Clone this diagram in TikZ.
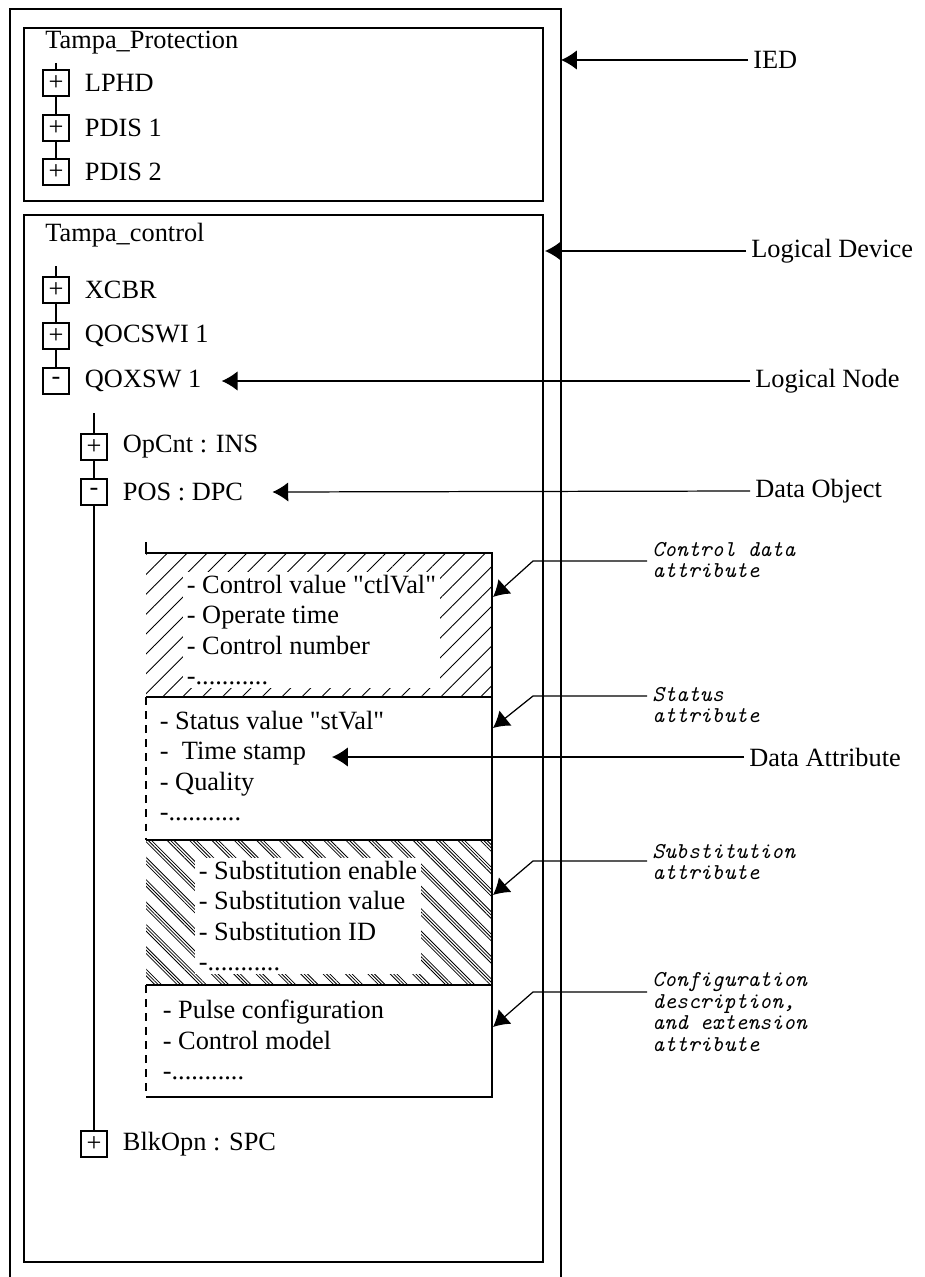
\documentclass[tikz,border=0pt]{standalone}
\usepackage{fontspec}
\setmainfont{Liberation Serif}[Ligatures=TeXOff]
\usetikzlibrary{positioning,arrows.meta,patterns.meta}

\tikzset{
  frame/.style={draw, line width=0.8pt},
  tbox/.style={draw, fill=white, line width=0.7pt, minimum size=0.52cm, inner sep=0pt, font=\fontsize{15}{15}\selectfont},
  item/.style={right=0.2cm of #1, inner sep=0.1cm},
  lbl/.style={anchor=west, inner sep=0.1cm},
  attr/.style={anchor=west, align=left, inner sep=2pt, font=\fontsize{15}{17.3}\selectfont},
  note/.style={anchor=west, align=left, inner sep=0.1cm, font=\ttfamily\itshape\fontsize{12.9}{12.5}\selectfont},
  arr/.style={-{Latex[length=9pt,width=11pt]}, line width=0.7pt},
}

\begin{document}
\begin{tikzpicture}[x=0.02cm, y=-0.02cm, every node/.style={font=\fontsize{15}{18}\selectfont}]
\useasboundingbox (0,0) rectangle (925,1277);

% frames
\draw[frame] (10,1277) -- (10,9) -- (561,9) -- (561,1277);
\draw[frame] (24,28) rectangle (543,201);
\draw[frame] (24,215) rectangle (543,1262);
\coordinate (outR) at (561,0);
\coordinate (ctlR) at (545,0);

% protection device
\node[lbl] (prot) at (40,43) {Tampa\_Protection};
\coordinate (ptop) at (56,63);
\node[tbox] (lphdb) at (56,83) {+};
\node[tbox] (pdis1b) at (56,128) {+};
\node[tbox] (pdis2b) at (56,172) {+};
\node[item=lphdb] (lphd) {LPHD};
\node[item=pdis1b] (pdis1) {PDIS 1};
\node[item=pdis2b] (pdis2) {PDIS 2};
\draw[line width=0.7pt] (ptop) -- (lphdb) (lphdb) -- (pdis1b) (pdis1b) -- (pdis2b);

% control device
\node[lbl] (ctl) at (40,235) {Tampa\_control};
\coordinate (ctop) at (56,266);
\node[tbox] (xcbrb) at (56,290) {+};
\node[tbox] (qocswib) at (56,336) {+};
\node[tbox] (qoxswb) at (56,381) {-};
\node[item=xcbrb] (xcbr) {XCBR};
\node[item=qocswib] (qocswi) {QOCSWI 1};
\node[item=qoxswb] (qoxsw) {QOXSW 1};
\draw[line width=0.7pt] (ctop) -- (xcbrb) (xcbrb) -- (qocswib) (qocswib) -- (qoxswb);

\coordinate (stop) at (94,413);
\node[tbox] (opcntb) at (94,447) {+};
\node[tbox] (posb) at (94,492) {-};
\node[tbox] (blkb) at (94,1144) {+};
\node[item=opcntb] (opcnt) {OpCnt : INS};
\node[item=posb] (pos) {POS : DPC};
\node[item=blkb] (blk) {BlkOpn : SPC};
\draw[line width=0.7pt] (stop) -- (opcntb) (opcntb) -- (posb) (posb) -- (blkb);

% attribute stack
\fill[pattern={Lines[angle=45,distance=8pt,line width=0.5pt]}] (146,553) rectangle (492,697);
\foreach \s in {0,1.9,3.8}
  \fill[pattern={Lines[angle=-45,distance=9pt,xshift=\s pt,line width=0.45pt]}] (146,840) rectangle (492,985);
\draw[frame] (146,542) -- (146,553) -- (492,553) -- (492,1097) -- (146,1097);
\draw[frame] (146,697) -- (492,697) (146,840) -- (492,840) (146,985) -- (492,985);
\draw[frame, dash pattern=on 4.5pt off 3.5pt] (146,697) -- (146,840) (146,985) -- (146,1097);

\node[attr, fill=white] (ctrlattr) at (183,630) {- Control value "ctlVal"\\- Operate time\\- Control number\\-...........};
\node[attr] (statattr) at (156,766) {- Status value "stVal"\\-\ \ Time stamp\\- Quality\\-...........};
\node[attr, fill=white] (subattr) at (195,916) {- Substitution enable\\- Substitution value\\- Substitution ID\\-...........};
\node[attr] (cfgattr) at (159,1040) {- Pulse configuration\\- Control model\\-...........};
\coordinate (tstip) at (332,757);

% right hand labels
\node[lbl] (ied) at (748,60) {IED};
\node[lbl] (ldev) at (746,251) {Logical Device};
\node[lbl] (lnode) at (750,381) {Logical Node};
\node[lbl] (dobj) at (750,491) {Data Object};
\node[lbl] (dattr) at (744,757) {Data Attribute};

\draw[arr] (ied.west) -- (ied.west -| outR);
\draw[arr] (ldev.west) -- (ldev.west -| ctlR);
\draw[arr] (lnode.west) -- ([xshift=0.3cm]qoxsw.east);
\draw[arr] (dobj.west) -- ([xshift=0.48cm]pos.east);
\draw[arr] (dattr.west) -- (tstip);

% italic notes
\node[note] (cda) at (647,560) {Control data\\attribute};
\node[note] (sta) at (647,705) {Status\\attribute};
\node[note] (sua) at (647,862) {Substitution\\attribute};
\node[note] (cfa) at (647,1012) {Configuration\\description,\\and extension\\attribute};
\coordinate (cdalead) at (647,561);
\coordinate (stalead) at (647,696);
\coordinate (sualead) at (647,861);
\coordinate (cfalead) at (647,992);
\coordinate (cdatip) at (493,597);
\coordinate (statip) at (493,728);
\coordinate (suatip) at (493,895);
\coordinate (cfatip) at (493,1027);

\draw[arr] (cdalead) -- ++(-114,0) -- (cdatip);
\draw[arr] (stalead) -- ++(-114,0) -- (statip);
\draw[arr] (sualead) -- ++(-114,0) -- (suatip);
\draw[arr] (cfalead) -- ++(-114,0) -- (cfatip);
\end{tikzpicture}
\end{document}
